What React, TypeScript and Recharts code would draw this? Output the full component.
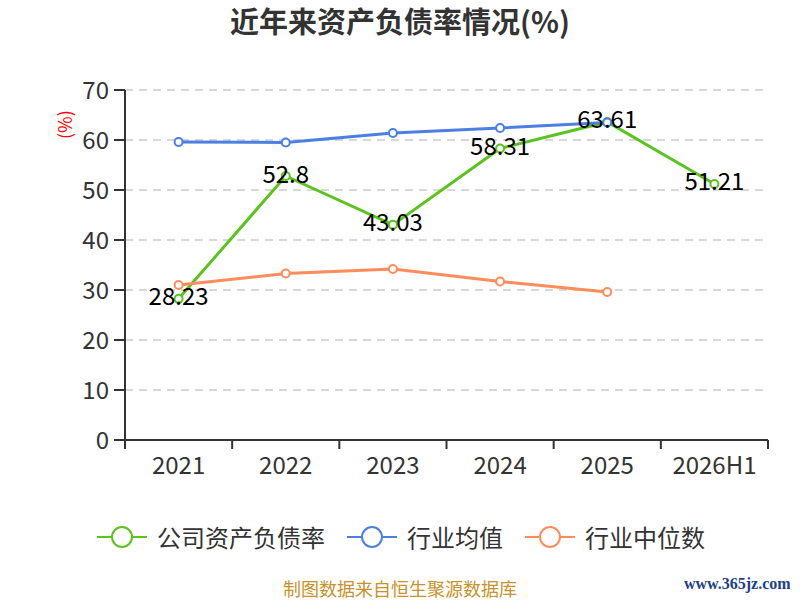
import { CartesianGrid, LabelList, Line, LineChart, XAxis, YAxis } from 'recharts';

const years = ['2021', '2022', '2023', '2024', '2025', '2026H1'];
const companyRatio = [28.23, 52.8, 43.03, 58.31, 63.61, 51.21];
const industryMean = [59.6, 59.5, 61.4, 62.4, 63.5, null];
const industryMedian = [31.0, 33.3, 34.2, 31.7, 29.6, null];
const yTicks = [0, 10, 20, 30, 40, 50, 60, 70];

const series = [
  { key: 'company', name: '公司资产负债率', color: '#5bc41c' },
  { key: 'mean', name: '行业均值', color: '#4b7fe3' },
  { key: 'median', name: '行业中位数', color: '#ff8c5a' },
];

const data = years.map((year, i) => ({
  year,
  company: companyRatio[i],
  mean: industryMean[i],
  median: industryMedian[i],
}));

const FONT = '"Noto Sans CJK SC", "Noto Sans", sans-serif';
const CHART_W = 800;
const PLOT_LEFT = 125;
const PLOT_RIGHT = 32;
const PLOT_BOTTOM = 440;
const band = (CHART_W - PLOT_LEFT - PLOT_RIGHT) / years.length;

function XTick(props: any) {
  const { x, payload, index } = props;
  const last = index === years.length - 1;
  return (
    <g>
      <line x1={x - band / 2} y1={PLOT_BOTTOM} x2={x - band / 2} y2={PLOT_BOTTOM + 9} stroke="#333" strokeWidth={2} />
      {last && (
        <line x1={x + band / 2} y1={PLOT_BOTTOM} x2={x + band / 2} y2={PLOT_BOTTOM + 9} stroke="#333" strokeWidth={2} />
      )}
      <text x={x} y={PLOT_BOTTOM + 34} textAnchor="middle" fill="#333" fontSize={24} fontFamily={FONT}>
        {payload.value}
      </text>
    </g>
  );
}

function ValueLabel(props: any) {
  const { x, y, value } = props;
  return (
    <text x={x} y={y - 4} textAnchor="middle" dominantBaseline="central" fill="#000" fontSize={24} fontFamily={FONT}>
      {value}
    </text>
  );
}

function LegendIcon({ color }: { color: string }) {
  return (
    <svg width={50} height={24} style={{ display: 'block' }}>
      <line x1={0} y1={12} x2={50} y2={12} stroke={color} strokeWidth={2} />
      <circle cx={25} cy={12} r={10} fill="#fff" stroke={color} strokeWidth={2} />
    </svg>
  );
}

export default function App() {
  return (
    <div style={{ position: 'absolute', left: 0, top: 0, width: 800, height: 600, background: '#fff', fontFamily: FONT, overflow: 'hidden' }}>
      <div style={{ position: 'absolute', top: 0, width: 800, textAlign: 'center', fontSize: 29, fontWeight: 'bold', color: '#333', lineHeight: '40px' }}>
        近年来资产负债率情况(%)
      </div>
      <div
        style={{
          position: 'absolute', left: 50, top: 112, width: 28, height: 26, lineHeight: '26px', textAlign: 'center',
          fontSize: 18, color: 'red', transform: 'rotate(-90deg)', transformOrigin: 'center',
        }}
      >
        (%)
      </div>
      <LineChart width={800} height={600} data={data} margin={{ top: 90, right: PLOT_RIGHT, left: 0, bottom: 0 }}>
        <CartesianGrid vertical={false} stroke="#ccc" strokeDasharray="8 6" strokeWidth={1.5} />
        <XAxis
          dataKey="year"
          height={600 - PLOT_BOTTOM}
          padding={{ left: band / 2, right: band / 2 }}
          axisLine={{ stroke: '#333', strokeWidth: 2 }}
          tickLine={false}
          tick={<XTick />}
          interval={0}
        />
        <YAxis
          width={PLOT_LEFT}
          domain={[0, 70]}
          ticks={yTicks}
          axisLine={{ stroke: '#333', strokeWidth: 2 }}
          tickLine={{ stroke: '#333', strokeWidth: 2 }}
          tickSize={11}
          tick={{ fill: '#333', fontSize: 24, fontFamily: FONT }}
          tickMargin={5}
        />
        <Line
          dataKey="company"
          stroke={series[0].color}
          strokeWidth={3}
          dot={{ r: 4, fill: '#fff', stroke: series[0].color, strokeWidth: 2 }}
          isAnimationActive={false}
        >
          <LabelList dataKey="company" content={<ValueLabel />} />
        </Line>
        <Line
          dataKey="mean"
          stroke={series[1].color}
          strokeWidth={3}
          dot={{ r: 4, fill: '#fff', stroke: series[1].color, strokeWidth: 2 }}
          isAnimationActive={false}
        />
        <Line
          dataKey="median"
          stroke={series[2].color}
          strokeWidth={3}
          dot={{ r: 4, fill: '#fff', stroke: series[2].color, strokeWidth: 2 }}
          isAnimationActive={false}
        />
      </LineChart>
      <div style={{ position: 'absolute', left: 97, top: 522, display: 'flex', alignItems: 'center' }}>
        {series.map((s) => (
          <div key={s.key} style={{ display: 'flex', alignItems: 'center', marginRight: 22 }}>
            <LegendIcon color={s.color} />
            <span style={{ marginLeft: 10, fontSize: 24, color: '#333', lineHeight: '30px' }}>{s.name}</span>
          </div>
        ))}
      </div>
      <div style={{ position: 'absolute', top: 578, width: 800, textAlign: 'center', fontSize: 18, lineHeight: '20px', color: '#c8922a' }}>
        制图数据来自恒生聚源数据库
      </div>
      <div
        style={{
          position: 'absolute', left: 684, top: 575, fontSize: 16, lineHeight: '18px', fontWeight: 'bold',
          color: '#1c3f8a', fontFamily: '"Liberation Serif", serif',
        }}
      >
        www.365jz.com
      </div>
    </div>
  );
}
